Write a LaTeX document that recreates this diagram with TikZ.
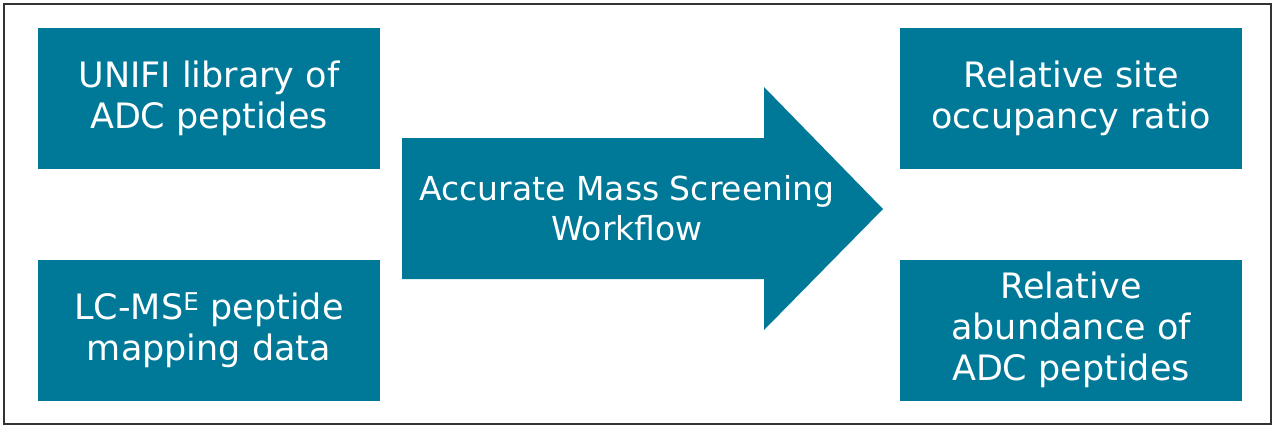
\documentclass[tikz,border=0pt]{standalone}
\usepackage{fontspec}
\setmainfont{DejaVu Sans}
\usepackage{tikz}
\usetikzlibrary{positioning, calc}
\definecolor{wteal}{RGB}{0,120,152}

\begin{document}
\begin{tikzpicture}[x=1pt, y=-1pt,
	box/.style={fill=wteal, text=white, minimum width=342pt, minimum height=141pt, inner sep=0pt, align=center, font=\fontsize{35}{41}\selectfont},
	flowtext/.style={text=white, align=center, inner sep=0pt, font=\fontsize{33}{40}\selectfont}]
			\useasboundingbox (0,0) rectangle (1279,431);
			\draw [line width=1.5pt, black!80] (4,4) rectangle (1271,424);
			
			% input boxes
			\node [box] (library) at (209,98) {UNIFI library of\\ADC peptides};
			\node [box] (lcdata) at (209,330) {LC-MS\textsuperscript{E} peptide\\mapping data};
			
			% workflow arrow
			\fill [wteal] (402,138) -- (764,138) -- (764,87) -- (883,209) -- (764,330) -- (764,279) -- (402,279) -- cycle;
			\node [flowtext] (workflow) at (627,208) {Accurate Mass Screening\\Workflow};
			
			% results
			\node [box] (occupancy) at (1071,98) {Relative site\\occupancy ratio};
			\node [box] (abundance) at (1071,330) {Relative\\abundance of\\ADC peptides};
			\end{tikzpicture}
\end{document}
